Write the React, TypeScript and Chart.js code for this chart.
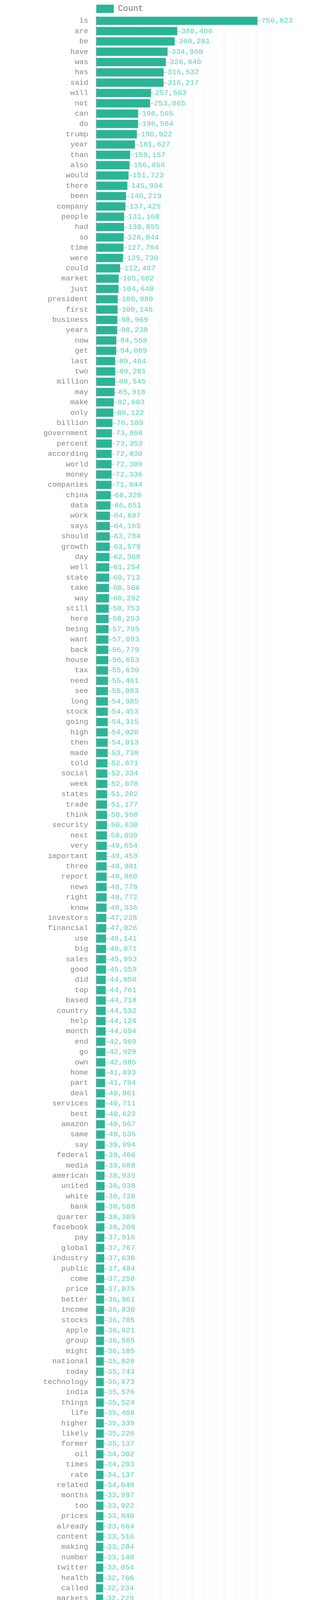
import React, { useEffect, useRef } from 'react';
import { Chart, registerables } from 'chart.js';

Chart.register(...registerables);

const WORDS: string[] = [
  'is', 'are', 'be', 'have', 'was', 'has', 'said', 'will', 'not', 'can',
  'do', 'trump', 'year', 'than', 'also', 'would', 'there', 'been', 'company', 'people',
  'had', 'so', 'time', 'were', 'could',
  'market', 'just', 'president', 'first', 'business', 'years', 'now', 'get', 'last', 'two',
  'million', 'may', 'make', 'only', 'billion', 'government', 'percent', 'according', 'world', 'money',
  'companies', 'china', 'data', 'work', 'says', 'should', 'growth', 'day', 'well',
  'state', 'take', 'way', 'still', 'here', 'being', 'want', 'back', 'house', 'tax',
  'need', 'see', 'long', 'stock', 'going', 'high', 'then', 'made', 'told', 'social',
  'week', 'states', 'trade', 'think', 'security', 'next', 'very', 'important',
  'three', 'report', 'news', 'right', 'know', 'investors', 'financial', 'use', 'big', 'sales',
  'good', 'did', 'top', 'based', 'country', 'help', 'month', 'end', 'go', 'own',
  'home', 'part', 'deal', 'services', 'best', 'amazon', 'same', 'say',
  'federal', 'media', 'american', 'united', 'white', 'bank', 'quarter', 'facebook', 'pay', 'global',
  'industry', 'public', 'come', 'price', 'better', 'income', 'stocks', 'apple', 'group', 'might',
  'national', 'today', 'technology', 'india', 'things', 'life', 'higher', 'likely', 'former',
  'oil', 'times', 'rate', 'related', 'months', 'too', 'prices', 'already', 'content', 'making',
  'number', 'twitter', 'health', 'called', 'markets', 'washington', 'recent', 'ceo', 'economic', 'border',
  'free', 'women', 'default', 'look', 'used', 'revenue', 'donald', 'economy',
  'past', 'second', 'early', 'push', 'really', 'start', 'investment', 'far', 'plan', 'support',
  'change', 'working', 'does', 'set', 'major', 'share', 'russia', 'source', 'service', 'lot',
  'average', 'real', 'job', 'retirement', 'future', 'reported', 'video', 'power',
  'left', 'cost', 'expected', 'tickers', 'full', 'credit', 'term', 'earnings', 'interest', 'great',
  'become', 'point', 'war', 'information', 'family', 'products', 'key', 'policy', 'keep', 'team',
  'something', 'found', 'law', 'chief', 'america', 'days', 'put', 'office',
  'friday', 'shares', 'find', 'show', 'campaign', 'court', 'never', 'system', 'five', 'low',
  'administration', 'customers', 'employees', 'increase', 'cash', 'cannabis', 'city', 'general', 'yet', 'read',
  'four', 'value', 'primary', 'investing', 'move', 'marijuana', 'political', 'statement',
  'able', 'chinese', 'tuesday', 'wall', 'old', 'place', 'party', 'added', 'image', 'small',
  'buy', 'different', 'won', 'research', 'thursday', 'congress', 'rates', 'earlier', 'looking', 'north',
  'wednesday', 'international', 'total', 'level', 'once', 'finance', 'images', 'monday',
  'nearly', 'using', 'benefits', 'potential', 'dollar', 'comes', 'department', 'capital', 'energy', 'lower',
  'give', 'seen', 'doing', 'biggest', 'post', 'personal', 'line', 'fact', 'plans', 'online',
  'countries',
];

const COUNTS: number[] = [
  756823, 380406, 368281, 334960, 326840, 316532, 316217, 257563, 253065, 196565,
  196564, 190922, 181627, 159157, 156856, 151723, 145994, 140219, 137425, 131168,
  130855, 128844, 127764, 125730, 112467,
  105602, 104640, 100980, 100146, 98969, 98238, 94558, 94089, 89404, 89201,
  88545, 85918, 82603, 80122, 76109, 73858, 73353, 72830, 72389, 72336,
  71844, 68320, 66851, 64687, 64165, 63784, 63579, 62368, 61254,
  60713, 60306, 60292, 58753, 58253, 57795, 57093, 56779, 56653, 55630,
  55461, 55083, 54985, 54453, 54315, 54020, 54013, 53738, 52871, 52334,
  52078, 51202, 51177, 50968, 50630, 50039, 49654, 49453,
  48981, 48860, 48778, 48772, 48336, 47238, 47026, 46141, 46071, 45993,
  45559, 44850, 44761, 44718, 44532, 44124, 44094, 42969, 42929, 42885,
  41893, 41794, 40861, 40711, 40623, 40567, 40535, 39994,
  39466, 39088, 38939, 38938, 38728, 38508, 38309, 38208, 37916, 37767,
  37630, 37484, 37250, 37075, 36961, 36830, 36785, 36621, 36565, 36185,
  35826, 35743, 35673, 35576, 35524, 35466, 35339, 35226, 35137,
  34302, 34203, 34137, 34048, 33997, 33922, 33840, 33664, 33516, 33284,
  33148, 33054, 32766, 32234, 32229, 32221, 32132, 32034, 31997, 31850,
  31824, 31729, 31678, 31651, 31594, 31547, 31442, 31441,
  31370, 31318, 31214, 31123, 31118, 30858, 30825, 30804, 30743, 30706,
  30685, 30666, 30468, 30424, 30313, 30285, 30214, 30110, 29881, 29876,
  29804, 29691, 29669, 29606, 29559, 29492, 29489, 29437,
  29416, 29305, 29276, 29263, 29228, 29127, 29078, 29064, 28974, 28886,
  28873, 28844, 28793, 28681, 28669, 28628, 28516, 28371, 28194, 28182,
  28092, 27932, 27792, 27759, 27691, 27595, 27577, 27576,
  27550, 27547, 27492, 27472, 27410, 27410, 27387, 27333, 27318, 26983,
  26911, 26872, 26821, 26133, 26120, 26078, 26069, 25968, 25913, 25888,
  25826, 25765, 25680, 25670, 25649, 25544, 25527, 25505,
  25416, 25413, 25395, 25388, 25330, 25313, 25229, 25228, 25176, 25162,
  25100, 25050, 24865, 24773, 24644, 24571, 24547, 24504, 24472, 24471,
  24450, 24383, 24382, 24290, 24270, 24247, 24159, 24157,
  24153, 24139, 23999, 23805, 23785, 23757, 23755, 23736, 23664, 23602,
  23498, 23496, 23378, 23351, 23350, 23346, 23254, 23203, 23179, 23124,
  23031,
];

const SERIES_LABEL = 'Count';
const X_MAX = 800000;
const X_STEP = 50000;
const X_LABELED_TICKS = [0, 200000, 400000, 600000, 800000];

const FONT_FAMILY = "'Liberation Mono', 'Courier New', monospace";
const BAR_COLOR = '#2bb596';
const VALUE_COLOR = '#56cfb2';
const LABEL_COLOR = '#888888';

const formatTick = (v: number) => (v === 0 ? '0' : `${v / 1000}K`);

const valueLabelsPlugin = {
  id: 'valueLabels',
  afterDatasetsDraw(chart: any) {
    const ctx = chart.ctx as CanvasRenderingContext2D;
    const meta = chart.getDatasetMeta(0);
    ctx.save();
    ctx.font = `19.2px ${FONT_FAMILY}`;
    ctx.textBaseline = 'middle';
    ctx.textAlign = 'left';
    meta.data.forEach((el: any, i: number) => {
      const x = el.x;
      const y = el.y;
      const ly = Math.round(y) + 0.5;
      ctx.strokeStyle = '#aaaaaa';
      ctx.lineWidth = 1;
      ctx.beginPath();
      ctx.moveTo(x, ly);
      ctx.lineTo(x + 10, ly);
      ctx.stroke();
      ctx.fillStyle = VALUE_COLOR;
      ctx.fillText(COUNTS[i].toLocaleString('en-US'), x + 10, y);
    });
    ctx.restore();
  },
};

export default function App() {
  const ref = useRef<HTMLCanvasElement>(null);

  useEffect(() => {
    if (!ref.current) return;
    const chart = new Chart(ref.current, {
      type: 'bar',
      data: {
        labels: WORDS,
        datasets: [
          {
            label: SERIES_LABEL,
            data: COUNTS,
            backgroundColor: BAR_COLOR,
            borderWidth: 0,
            categoryPercentage: 0.8,
            barPercentage: 1.0,
          },
        ],
      },
      options: {
        indexAxis: 'y',
        responsive: false,
        animation: false,
        devicePixelRatio: 1,
        layout: { padding: { top: 3.7, right: 108.3, bottom: 0, left: 0 } },
        plugins: {
          legend: {
            position: 'top',
            align: 'start',
            fullSize: false,
            maxHeight: 28.3,
            labels: {
              boxWidth: 45,
              boxHeight: 21.6,
              padding: 0,
              color: '#777777',
              font: { family: FONT_FAMILY, size: 21.6 },
            },
          } as any,
          tooltip: { enabled: false },
        },
        scales: {
          x: {
            type: 'linear',
            position: 'bottom',
            min: 0,
            max: X_MAX,
            afterFit: (s: any) => {
              s.height = 30;
            },
            grid: { color: '#ececec', drawTicks: false },
            border: { display: false },
            ticks: {
              stepSize: X_STEP,
              autoSkip: false,
              maxRotation: 0,
              padding: 10.5,
              color: LABEL_COLOR,
              font: { family: FONT_FAMILY, size: 19.2 },
              callback: (v: any) => (X_LABELED_TICKS.includes(Number(v)) ? formatTick(Number(v)) : ''),
            },
          },
          y: {
            afterFit: (s: any) => {
              s.width = 238.7;
            },
            grid: { display: false, drawTicks: false },
            border: { display: true, color: '#999999', width: 1 },
            ticks: {
              autoSkip: false,
              padding: 20.5,
              color: LABEL_COLOR,
              font: { family: FONT_FAMILY, size: 19.2 },
            },
          },
        },
      } as any,
      plugins: [valueLabelsPlugin],
    });
    return () => chart.destroy();
  }, []);

  return (
    <canvas
      ref={ref}
      width={784}
      height={7984}
      style={{ display: 'block', width: 784, height: 7984 }}
    />
  );
}
